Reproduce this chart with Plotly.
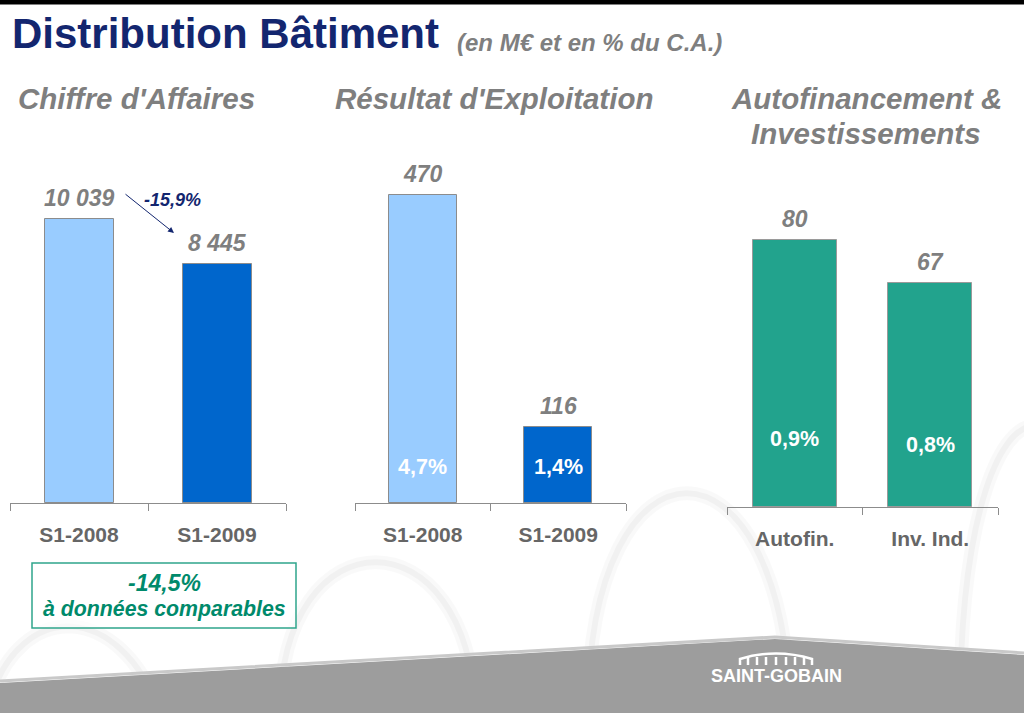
import plotly.graph_objects as go

W, H = 1024, 713

# ---------------- data ----------------
ca_categories = ["S1-2008", "S1-2009"]
ca_values = [10039, 8445]
ca_labels = ["10 039", "8 445"]

re_categories = ["S1-2008", "S1-2009"]
re_values = [470, 116]
re_labels = ["470", "116"]
re_margins = ["4,7%", "1,4%"]

af_categories = ["Autofin.", "Inv. Ind."]
af_values = [80, 67]
af_labels = ["80", "67"]
af_margins = ["0,9%", "0,8%"]

ca_change = "-15,9%"
ca_comparable = "-14,5%"

FONT = "Liberation Sans, Arial, sans-serif"
GREY = "#7f7f7f"
NAVY = "#13266f"
LIGHT_BLUE = "#99ccff"
DARK_BLUE = "#0066cc"
TEAL = "#22a38d"


def px(x):
    return x / W


def py(y):
    return 1 - y / H


fig = go.Figure()

fig.add_trace(go.Bar(x=ca_categories, y=ca_values, xaxis="x", yaxis="y",
                     marker=dict(color=[LIGHT_BLUE, DARK_BLUE], line=dict(color="#8c8c8c", width=1)),
                     width=0.5, hoverinfo="skip"))
fig.add_trace(go.Bar(x=re_categories, y=re_values, xaxis="x2", yaxis="y2",
                     marker=dict(color=[LIGHT_BLUE, DARK_BLUE], line=dict(color="#8c8c8c", width=1)),
                     width=0.5, hoverinfo="skip"))
fig.add_trace(go.Bar(x=af_categories, y=af_values, xaxis="x3", yaxis="y3",
                     marker=dict(color=[TEAL, TEAL], line=dict(color="#9a9a9a", width=1)),
                     width=0.62, hoverinfo="skip"))

xcommon = dict(type="category", range=[-0.5, 1.5], showline=True, linecolor="#8c8c8c",
               linewidth=1, ticks="outside", tickson="boundaries", ticklen=7,
               tickcolor="#8c8c8c", showgrid=False, zeroline=False, fixedrange=True,
               tickfont=dict(family=FONT, size=21, color="#666666", weight="bold"),
               ticklabelstandoff=13)
ycommon = dict(visible=False, showgrid=False, zeroline=False, fixedrange=True)

fig.update_layout(
    width=W, height=H,
    margin=dict(l=0, r=0, t=0, b=0),
    paper_bgcolor="white", plot_bgcolor="rgba(0,0,0,0)",
    showlegend=False,
    bargap=0,
    xaxis=dict(domain=[px(10), px(286)], anchor="y", **xcommon),
    yaxis=dict(domain=[py(503), py(170)], range=[0, 11771], anchor="x", **ycommon),
    xaxis2=dict(domain=[px(355), px(626)], anchor="y2", **xcommon),
    yaxis2=dict(domain=[py(503), py(170)], range=[0, 508], anchor="x2", **ycommon),
    xaxis3=dict(domain=[px(727), px(998)], anchor="y3", **xcommon),
    yaxis3=dict(domain=[py(507), py(170)], range=[0, 101], anchor="x3", **ycommon),
)

shapes = []
# background arcs (decorative, soft)
arc_paths = [
    [(-10, 700), (20, 600), (120, 600), (160, 713)],
    [(280, 713), (280, 512), (470, 512), (475, 713)],
    [(588, 713), (588, 420), (784, 420), (790, 713)],
    [(960, 713), (960, 330), (1110, 330), (1110, 713)],
]
for p in arc_paths:
    (x0, y0), (x1, y1), (x2, y2), (x3, y3) = p
    path = f"M {px(x0)} {py(y0)} C {px(x1)} {py(y1)}, {px(x2)} {py(y2)}, {px(x3)} {py(y3)}"
    shapes.append(dict(type="path", path=path, xref="paper", yref="paper", layer="below",
                       line=dict(color="rgba(0,0,0,0.025)", width=14)))
    shapes.append(dict(type="path", path=path, xref="paper", yref="paper", layer="below",
                       line=dict(color="rgba(0,0,0,0.03)", width=6)))

# top black bar
shapes.append(dict(type="rect", xref="paper", yref="paper", x0=0, x1=1, y0=py(4), y1=1.0,
                   fillcolor="black", line=dict(color="black", width=1), layer="above"))

# bottom grey band
band = f"M {px(0)} {py(683)} L {px(775)} {py(639)} L {px(1024)} {py(655)} L {px(1024)} {py(713)} L {px(0)} {py(713)} Z"
shapes.append(dict(type="path", path=band, xref="paper", yref="paper", layer="above",
                   fillcolor="#9d9d9d", line=dict(width=0)))
edge = f"M {px(0)} {py(681)} L {px(775)} {py(637)} L {px(1024)} {py(653)}"
shapes.append(dict(type="path", path=edge, xref="paper", yref="paper", layer="above",
                   line=dict(color="#c9c9c9", width=3)))

# logo arcade
logo = f"M {px(740)} {py(665)} L {px(740)} {py(659)} Q {px(776)} {py(648)} {px(812)} {py(659)} L {px(812)} {py(665)}"
shapes.append(dict(type="path", path=logo, xref="paper", yref="paper", layer="above",
                   line=dict(color="white", width=2.5)))
for xx in [748, 757, 766, 776, 786, 795, 804]:
    shapes.append(dict(type="line", xref="paper", yref="paper", layer="above",
                       x0=px(xx), x1=px(xx), y0=py(657), y1=py(665),
                       line=dict(color="white", width=2.5)))

# comparable box
shapes.append(dict(type="rect", xref="paper", yref="paper", x0=px(32), x1=px(296),
                   y0=py(628), y1=py(563), line=dict(color="#2fa58c", width=1.5),
                   fillcolor="rgba(255,255,255,0.6)", layer="above"))

fig.update_layout(shapes=shapes)

ann = []


def text(x, y, s, size, color, xanchor="center", yanchor="middle", bold=True, italic=True, family=FONT):
    t = s
    if italic:
        t = f"<i>{t}</i>"
    if bold:
        t = f"<b>{t}</b>"
    ann.append(dict(x=px(x), y=py(y), xref="paper", yref="paper", text=t, showarrow=False,
                    xanchor=xanchor, yanchor=yanchor,
                    font=dict(family=family, size=size, color=color)))


# title
text(10, 33, "Distribution Bâtiment", 42, NAVY, xanchor="left", italic=False)
text(455, 42, "(en M€ et en % du C.A.)", 24, GREY, xanchor="left")

# panel headers
text(136, 99, "Chiffre d'Affaires", 29.5, GREY)
text(494, 99, "Résultat d'Exploitation", 29.5, GREY)
text(866, 99, "Autofinancement &", 29.5, GREY)
text(866, 133, "Investissements", 29.5, GREY)

# value labels above bars
for xr, yr, cats, vals, labs in [("x", "y", ca_categories, ca_values, ca_labels),
                                 ("x2", "y2", re_categories, re_values, re_labels),
                                 ("x3", "y3", af_categories, af_values, af_labels)]:
    for c, v, l in zip(cats, vals, labs):
        ann.append(dict(x=c, y=v, xref=xr, yref=yr, text=f"<b><i>{l}</i></b>", showarrow=False,
                        xanchor="center", yanchor="bottom", yshift=6,
                        font=dict(family=FONT, size=23, color=GREY)))

# margin labels inside bars
for c, m, sh in zip(re_categories, re_margins, [36, 36]):
    ann.append(dict(x=c, y=0, xref="x2", yref="y2", text=f"<b>{m}</b>", showarrow=False,
                    xanchor="center", yanchor="middle", yshift=sh,
                    font=dict(family=FONT, size=21.5, color="white")))
for c, m, sh in zip(af_categories, af_margins, [68, 62]):
    ann.append(dict(x=c, y=0, xref="x3", yref="y3", text=f"<b>{m}</b>", showarrow=False,
                    xanchor="center", yanchor="middle", yshift=sh,
                    font=dict(family=FONT, size=21.5, color="white")))

# change arrow
ann.append(dict(x=px(174), y=py(233), xref="paper", yref="paper", ax=-50, ay=-40,
                axref="pixel", ayref="pixel", text="", showarrow=True, arrowhead=2,
                arrowsize=1.2, arrowwidth=1, arrowcolor=NAVY))
text(172, 200, ca_change, 18, NAVY)

# comparable box text
text(164, 583, ca_comparable, 23, "#008a6b")
text(164, 609, "à données comparables", 21.3, "#008a6b")

# logo text
text(776, 676, "SAINT-GOBAIN", 18, "white", italic=False, family="Liberation Sans Narrow, Liberation Sans, Arial")

fig.update_layout(annotations=ann)

fig.write_html("out.html", config={"displayModeBar": False},
               post_script="document.body.style.margin='0';document.body.style.overflow='hidden';")
